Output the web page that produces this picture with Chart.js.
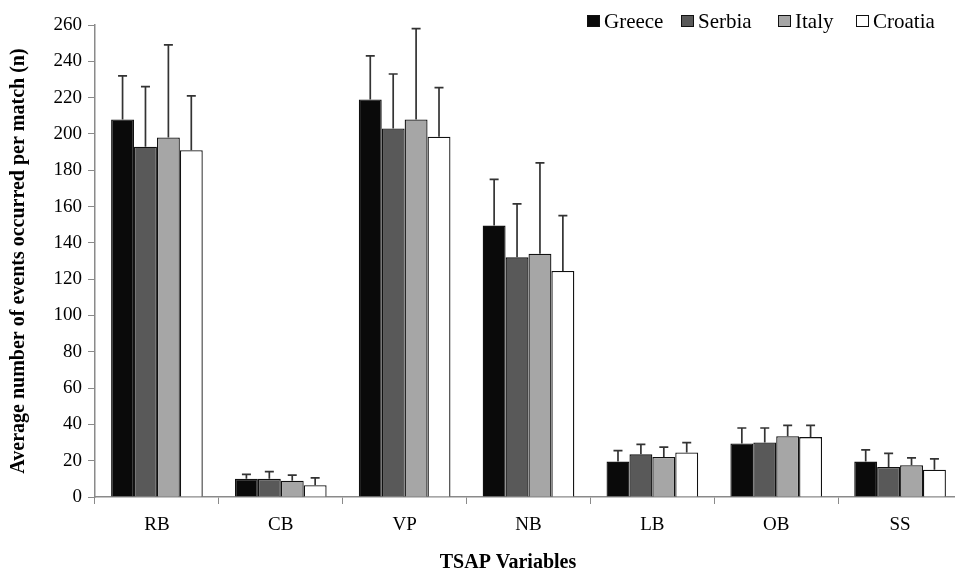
<!DOCTYPE html>
<html>
<head>
<meta charset="utf-8">
<script src="https://cdn.jsdelivr.net/npm/chart.js@4.4.1/dist/chart.umd.min.js"></script>
<style>
html,body{margin:0;padding:0;background:#fff;overflow:hidden;}
#wrap{width:955px;height:571px;position:relative;overflow:hidden;}
</style>
</head>
<body>
<div id="wrap"><canvas id="c" width="962" height="571"></canvas></div>
<script>
const categories = ["RB", "CB", "VP", "NB", "LB", "OB", "SS"];
const seriesNames = ["Greece", "Serbia", "Italy", "Croatia"];
const greece  = [208, 10, 219, 149.5, 19.5, 29.5, 19.5];
const serbia  = [193, 10, 203, 132, 23.5, 30, 16.5];
const italy   = [198, 9, 208, 134, 22, 33.5, 17.5];
const croatia = [191, 6.5, 198.5, 124.5, 24.5, 33, 15];
const greeceSD  = [24, 2.5, 24, 25.5, 6, 8.5, 6.5];
const serbiaSD  = [33, 4, 30, 29.5, 5.5, 8, 7.5];
const italySD   = [51, 3, 50, 50, 5.5, 6, 4];
const croatiaSD = [30, 4, 27, 30.5, 5.5, 6.5, 6];
const yTicks = [0, 20, 40, 60, 80, 100, 120, 140, 160, 180, 200, 220, 240, 260];
const xTitle = "TSAP Variables";
const yTitle = "Average number of events occurred per match (n)";

const fills = ["#0a0a0a", "#595959", "#a6a6a6", "#ffffff"];
const values = [greece, serbia, italy, croatia];
const sds = [greeceSD, serbiaSD, italySD, croatiaSD];

const FONT = "'Liberation Serif', 'Times New Roman', Times, serif";

const errorBars = {
  id: 'errorBars',
  afterDatasetsDraw(chart) {
    const ctx = chart.ctx;
    const ys = chart.scales.y;
    ctx.save();
    ctx.strokeStyle = '#333';
    ctx.lineWidth = 1.7;
    chart.data.datasets.forEach((ds, di) => {
      const meta = chart.getDatasetMeta(di);
      meta.data.forEach((bar, i) => {
        const v = ds.data[i];
        const top = ys.getPixelForValue(v);
        const e = ys.getPixelForValue(v + ds.sd[i]);
        ctx.beginPath();
        ctx.moveTo(bar.x, top);
        ctx.lineTo(bar.x, e);
        ctx.moveTo(bar.x - 4.5, e);
        ctx.lineTo(bar.x + 4.5, e);
        ctx.stroke();
      });
    });
    ctx.restore();
  }
};

const legendPlugin = {
  id: 'customLegend',
  afterDraw(chart) {
    const ctx = chart.ctx;
    const xs = [587, 681, 778, 856];
    const cy = 21;
    ctx.save();
    ctx.font = "21px " + FONT;
    ctx.textBaseline = 'middle';
    ctx.textAlign = 'left';
    chart.data.datasets.forEach((ds, i) => {
      const x = xs[i];
      ctx.fillStyle = ds.backgroundColor;
      ctx.fillRect(x, cy - 6, 13, 12);
      ctx.strokeStyle = '#111';
      ctx.lineWidth = 1;
      ctx.strokeRect(x + 0.5, cy - 5.5, 12, 11);
      ctx.fillStyle = '#000';
      ctx.fillText(ds.label, x + 17, cy + 1);
    });
    // x axis title
    ctx.font = "bold 20px " + FONT;
    ctx.textAlign = 'center';
    ctx.fillText(xTitle, 508, 563);
    ctx.restore();
  }
};

new Chart(document.getElementById('c'), {
  type: 'bar',
  data: {
    labels: categories,
    datasets: seriesNames.map((n, i) => ({
      label: n,
      data: values[i],
      sd: sds[i],
      backgroundColor: fills[i],
      borderColor: '#111',
      borderWidth: 1.3,
      categoryPercentage: 0.74,
      barPercentage: 1.0
    }))
  },
  options: {
    responsive: false,
    animation: false,
    layout: { padding: { top: 25, right: 0, left: 0, bottom: 0 } },
    plugins: {
      legend: { display: false },
      tooltip: { enabled: false }
    },
    scales: {
      x: {
        grid: { display: true, drawOnChartArea: false, drawTicks: true, tickLength: 7, color: '#8a8a8a', offset: true },
        border: { display: true, color: '#8a8a8a', width: 1.5 },
        ticks: { color: '#000', font: { family: FONT, size: 19 }, padding: 10 },
        title: { display: false },
        afterFit(s) { s.height = 74; }
      },
      y: {
        min: 0, max: 260,
        afterBuildTicks(s) { s.ticks = yTicks.map(v => ({ value: v })); },
        grid: { display: true, drawOnChartArea: false, drawTicks: true, tickLength: 7, color: '#8a8a8a' },
        border: { display: true, color: '#8a8a8a', width: 1.5 },
        ticks: { color: '#000', font: { family: FONT, size: 19 }, padding: 6 },
        title: { display: true, text: yTitle, color: '#000', font: { family: FONT, size: 20, weight: 'bold' }, padding: { top: 7, bottom: 0 } },
        afterFit(s) { s.width = 95; }
      }
    }
  },
  plugins: [errorBars, legendPlugin]
});
</script>
</body>
</html>
